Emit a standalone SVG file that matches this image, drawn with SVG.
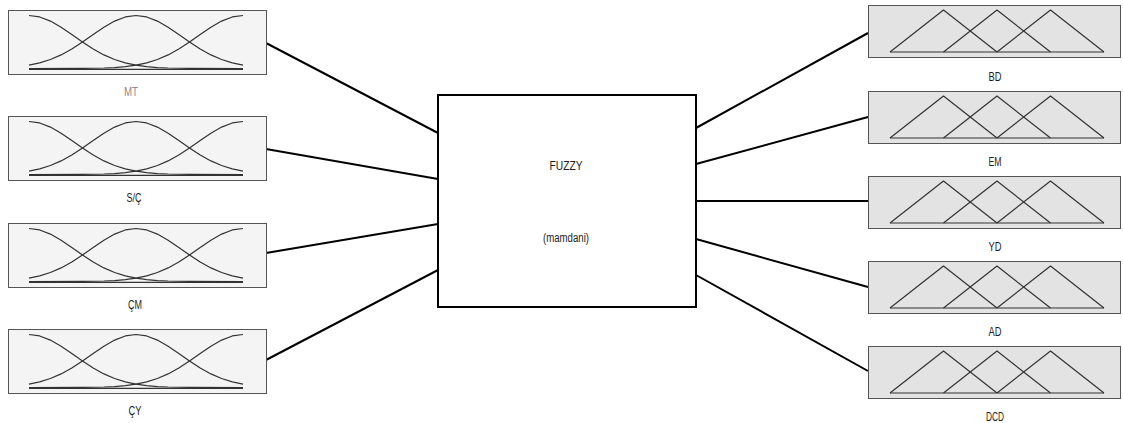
<svg xmlns="http://www.w3.org/2000/svg" xmlns:xlink="http://www.w3.org/1999/xlink" width="1123" height="423" viewBox="0 0 1123 423">
  <style>
    .in-box { fill: #f4f4f4; stroke: #555555; stroke-width: 1; }
    .out-box { fill: #e3e3e3; stroke: #555555; stroke-width: 1; }
    .mf { fill: none; stroke: #333333; stroke-width: 1.2; stroke-linejoin: round; }
    .sys { fill: #ffffff; stroke: #000000; stroke-width: 2; }
    .wire { stroke: #000000; stroke-width: 2; fill: none; }
    .lbl { font-family: "Liberation Sans", Arial, sans-serif; font-size: 12px; fill: #222222; text-anchor: middle; }
    .lbl.sel { fill: #8a8a8a; }
  </style>
  <defs>
    <!-- three gaussian membership functions over a 214px range, baseline at y=0 -->
    <g id="gauss">
      <polyline class="mf" points="0,-53 10.7,-51.55 21.4,-47.42 32.1,-41.28 42.8,-33.98 53.5,-26.47 64.2,-19.5 74.9,-13.59 85.6,-8.96 96.3,-5.59 107,-3.3 117.7,-1.84 128.4,-0.97 139.1,-0.48 149.8,-0.23 160.5,-0.1 214,0"/>
      <polyline class="mf" points="0,-3.3 10.7,-5.59 21.4,-8.96 32.1,-13.59 42.8,-19.5 53.5,-26.47 64.2,-33.98 74.9,-41.28 85.6,-47.42 96.3,-51.55 107,-53 117.7,-51.55 128.4,-47.42 139.1,-41.28 149.8,-33.98 160.5,-26.47 171.2,-19.5 181.9,-13.59 192.6,-8.96 203.3,-5.59 214,-3.3"/>
      <polyline class="mf" points="0,0 53.5,-0.1 64.2,-0.23 74.9,-0.48 85.6,-0.97 96.3,-1.84 107,-3.3 117.7,-5.59 128.4,-8.96 139.1,-13.59 149.8,-19.5 160.5,-26.47 171.2,-33.98 181.9,-41.28 192.6,-47.42 203.3,-51.55 214,-53"/>
      <line class="mf" x1="0" y1="0.8" x2="214" y2="0.8"/>
    </g>
    <!-- three triangular membership functions over a 214px range -->
    <g id="tri">
      <polyline class="mf" points="0,0 53.5,-42 107,0"/>
      <polyline class="mf" points="53.5,0 107,-42 160.5,0"/>
      <polyline class="mf" points="107,0 160.5,-42 214,0"/>
      <line class="mf" x1="0" y1="0" x2="214" y2="0"/>
    </g>
  </defs>

  <g id="connectors">
    <line class="wire" x1="266" y1="43" x2="438" y2="133"/>
    <line class="wire" x1="266" y1="149" x2="438" y2="179"/>
    <line class="wire" x1="266" y1="253" x2="438" y2="224"/>
    <line class="wire" x1="266" y1="360" x2="438" y2="270"/>
    <line class="wire" x1="696" y1="128" x2="868" y2="33"/>
    <line class="wire" x1="696" y1="164" x2="868" y2="117"/>
    <line class="wire" x1="696" y1="201" x2="868" y2="201"/>
    <line class="wire" x1="696" y1="239" x2="868" y2="287"/>
    <line class="wire" x1="696" y1="275" x2="868" y2="371"/>
  </g>

  <!-- inputs -->
  <g id="in-MT">
    <rect class="in-box" x="8.5" y="10.5" width="258" height="64"/>
    <use xlink:href="#gauss" x="29" y="68.5"/>
    <text class="lbl sel" x="131" y="96" textLength="14" lengthAdjust="spacingAndGlyphs">MT</text>
  </g>
  <g id="in-SC">
    <rect class="in-box" x="8.5" y="116.5" width="258" height="64"/>
    <use xlink:href="#gauss" x="29" y="174.5"/>
    <text class="lbl" x="134" y="202" textLength="15" lengthAdjust="spacingAndGlyphs">S/Ç</text>
  </g>
  <g id="in-CM">
    <rect class="in-box" x="8.5" y="223.5" width="258" height="64"/>
    <use xlink:href="#gauss" x="29" y="281.5"/>
    <text class="lbl" x="135" y="309" textLength="14" lengthAdjust="spacingAndGlyphs">ÇM</text>
  </g>
  <g id="in-CY">
    <rect class="in-box" x="8.5" y="329.5" width="258" height="64"/>
    <use xlink:href="#gauss" x="29" y="387.5"/>
    <text class="lbl" x="135" y="415" textLength="13" lengthAdjust="spacingAndGlyphs">ÇY</text>
  </g>

  <!-- inference system -->
  <g id="system">
    <rect class="sys" x="438" y="95" width="258" height="212"/>
    <text class="lbl" x="566" y="170" textLength="33" lengthAdjust="spacingAndGlyphs">FUZZY</text>
    <text class="lbl" x="566" y="242" textLength="46" lengthAdjust="spacingAndGlyphs">(mamdani)</text>
  </g>

  <!-- outputs -->
  <g id="out-BD">
    <rect class="out-box" x="868.5" y="5.5" width="252" height="52"/>
    <use xlink:href="#tri" x="890" y="52"/>
    <text class="lbl" x="995" y="81" textLength="13" lengthAdjust="spacingAndGlyphs">BD</text>
  </g>
  <g id="out-EM">
    <rect class="out-box" x="868.5" y="91.5" width="252" height="52"/>
    <use xlink:href="#tri" x="890" y="138"/>
    <text class="lbl" x="995" y="166" textLength="13" lengthAdjust="spacingAndGlyphs">EM</text>
  </g>
  <g id="out-YD">
    <rect class="out-box" x="868.5" y="176.5" width="252" height="52"/>
    <use xlink:href="#tri" x="890" y="223"/>
    <text class="lbl" x="995" y="251" textLength="13" lengthAdjust="spacingAndGlyphs">YD</text>
  </g>
  <g id="out-AD">
    <rect class="out-box" x="868.5" y="261.5" width="252" height="52"/>
    <use xlink:href="#tri" x="890" y="308"/>
    <text class="lbl" x="995" y="336" textLength="13" lengthAdjust="spacingAndGlyphs">AD</text>
  </g>
  <g id="out-DCD">
    <rect class="out-box" x="868.5" y="346.5" width="252" height="52"/>
    <use xlink:href="#tri" x="890" y="393"/>
    <text class="lbl" x="995" y="421" textLength="18" lengthAdjust="spacingAndGlyphs">DCD</text>
  </g>
</svg>
